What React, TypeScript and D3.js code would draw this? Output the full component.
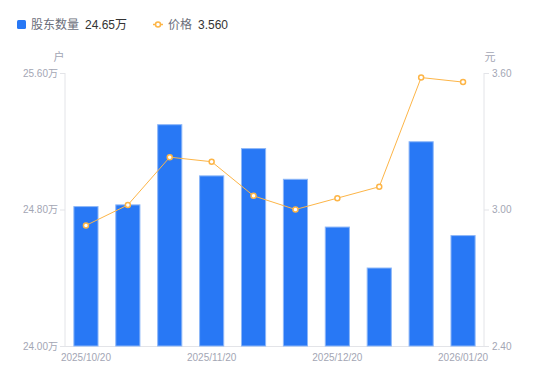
import React from "react";
import * as d3 from "d3";

const dates = ["2025/10/20","2025/10/31","2025/11/10","2025/11/20","2025/11/30","2025/12/10","2025/12/20","2025/12/31","2026/01/10","2026/01/20"];
const holders = [24.82, 24.83, 25.30, 25.00, 25.16, 24.98, 24.70, 24.46, 25.20, 24.65];
const prices = [2.93, 3.02, 3.23, 3.21, 3.06, 3.00, 3.05, 3.10, 3.58, 3.56];
const leftTicks = [24.0, 24.8, 25.6];
const rightTicks = [2.4, 3.0, 3.6];
const xLabelIdx = [0, 3, 6, 9];

const W = 550, H = 381;
const M = { left: 65, right: 484, top: 73, bottom: 346 };
const FONT = '"Liberation Sans", Arial, "Noto Sans CJK SC", sans-serif';
const BLUE = "#2878f5";
const ORANGE = "#fdb547";
const GREY = "#a3a6b4";
const AXIS = "#e3e4e8";

export default function App() {
  const x = d3.scaleBand<string>().domain(dates).range([M.left, M.right]).paddingInner(0.4).paddingOuter(0.2);
  const yL = d3.scaleLinear().domain([24, 25.6]).range([M.bottom, M.top]);
  const yR = d3.scaleLinear().domain([2.4, 3.6]).range([M.bottom, M.top]);
  const cx = (d: string) => (x(d) as number) + x.bandwidth() / 2;
  const line = d3.line<number>().x((_, i) => cx(dates[i])).y((v) => yR(v));

  return (
    <svg width={W} height={H} style={{ position: "absolute", left: 0, top: 0, fontFamily: FONT }}>
      <rect width={W} height={H} fill="#fff" />
      {/* legend */}
      <rect x={17} y={20} width={9} height={9} rx={1.5} fill={BLUE} />
      <text x={31} y={28.5} fontSize={12} fill="#6b6e7a">股东数量</text>
      <text x={85} y={28.5} fontSize={12} fill="#333">{"24.65万"}</text>
      <line x1={153} x2={163} y1={24.5} y2={24.5} stroke={ORANGE} strokeWidth={1.5} />
      <circle cx={158} cy={24.5} r={2.5} fill="#fff" stroke={ORANGE} strokeWidth={1.5} />
      <text x={168} y={28.5} fontSize={12} fill="#6b6e7a">价格</text>
      <text x={198} y={28.5} fontSize={12} fill="#333">3.560</text>

      {/* axis units */}
      <text x={59} y={61} fontSize={11} fill={GREY} textAnchor="middle">户</text>
      <text x={490} y={61} fontSize={11} fill={GREY} textAnchor="middle">元</text>

      {/* axes lines */}
      <line x1={M.left} x2={M.left} y1={M.top} y2={M.bottom} stroke={AXIS} />
      <line x1={M.right} x2={M.right} y1={M.top} y2={M.bottom} stroke={AXIS} />
      <line x1={M.left} x2={M.right} y1={M.bottom + 0.5} y2={M.bottom + 0.5} stroke={AXIS} />

      {leftTicks.map((t) => (
        <g key={"l" + t}>
          <line x1={M.left - 5} x2={M.left} y1={yL(t) + 0.5} y2={yL(t) + 0.5} stroke={AXIS} />
          <text x={M.left - 7} y={yL(t) + 3.5} fontSize={10} fill={GREY} textAnchor="end">{t.toFixed(2) + "万"}</text>
        </g>
      ))}
      {rightTicks.map((t) => (
        <g key={"r" + t}>
          <line x1={M.right} x2={M.right + 5} y1={yR(t) + 0.5} y2={yR(t) + 0.5} stroke={AXIS} />
          <text x={M.right + 8} y={yR(t) + 3.5} fontSize={10} fill={GREY}>{t.toFixed(2)}</text>
        </g>
      ))}

      {/* bars */}
      {holders.map((v, i) => (
        <rect key={"b" + i} x={(x(dates[i]) as number) + 0.5} y={yL(v) + 0.5} width={x.bandwidth() - 1}
          height={M.bottom - yL(v) - 0.5} fill={BLUE} stroke="#8db7f8" strokeWidth={1} />
      ))}

      {/* line */}
      <path d={line(prices) || ""} fill="none" stroke={ORANGE} strokeWidth={1} />
      {prices.map((v, i) => (
        <circle key={"p" + i} cx={cx(dates[i])} cy={yR(v)} r={2.5} fill="#fff" stroke={ORANGE} strokeWidth={1.5} />
      ))}

      {/* x labels */}
      {xLabelIdx.map((i) => (
        <text key={"x" + i} x={cx(dates[i])} y={361} fontSize={10} fill={GREY} textAnchor="middle">{dates[i]}</text>
      ))}
    </svg>
  );
}
